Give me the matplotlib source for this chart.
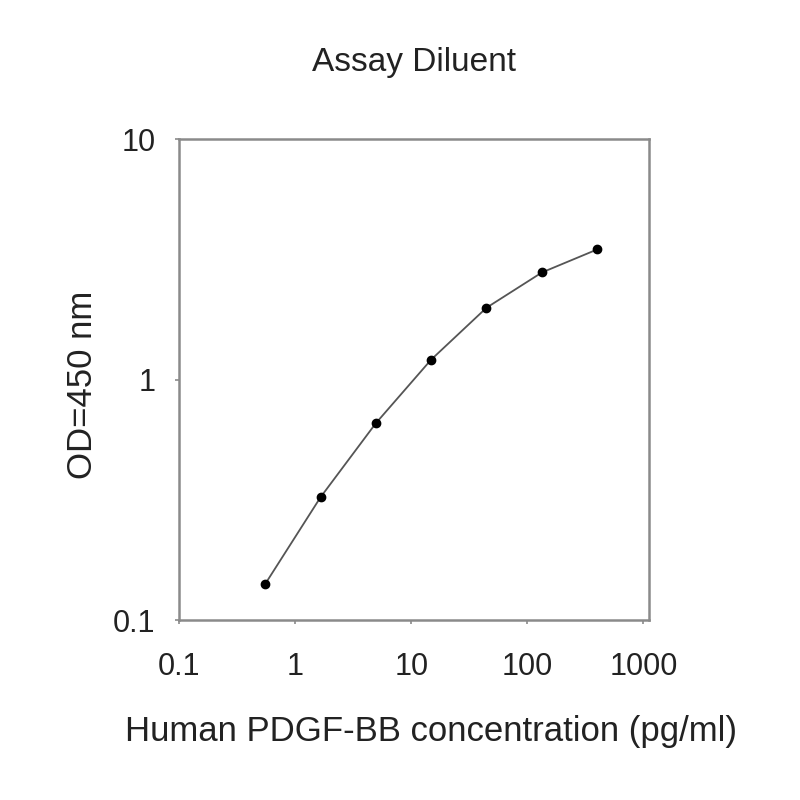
import matplotlib
matplotlib.use("Agg")
import matplotlib.pyplot as plt
from matplotlib.ticker import FixedLocator, NullLocator, FixedFormatter

plt.rcParams['font.family'] = ['Liberation Sans', 'DejaVu Sans']

# PDGF-BB standard curve (pg/ml vs OD450)
conc = [0.55, 1.65, 4.94, 14.8, 44.4, 133.3, 400]
od = [0.141, 0.324, 0.658, 1.21, 1.99, 2.79, 3.48]

x_ticks = [0.1, 1, 10, 100, 1000]
x_labels = ['0.1', '1', '10', '100', '1000']
y_ticks = [0.1, 1, 10]
y_labels = ['0.1', '1', '10']

fig = plt.figure(figsize=(8, 8), dpi=100)
ax = fig.add_axes([0.224, 0.225, 0.5875, 0.601])

ax.plot(conc, od, color='#555555', linewidth=1.3, zorder=2)
ax.plot(conc, od, 'o', color='black', markersize=6, zorder=3)

ax.set_xscale('log')
ax.set_yscale('log')
ax.set_xlim(0.1, 1120)
ax.set_ylim(0.1, 10)

ax.xaxis.set_major_locator(FixedLocator(x_ticks))
ax.xaxis.set_major_formatter(FixedFormatter(x_labels))
ax.xaxis.set_minor_locator(NullLocator())
ax.yaxis.set_major_locator(FixedLocator(y_ticks))
ax.yaxis.set_major_formatter(FixedFormatter(y_labels))
ax.yaxis.set_minor_locator(NullLocator())

for s in ax.spines.values():
    s.set_color('#8a8a8a')
    s.set_linewidth(1.8)
ax.tick_params(direction='out', length=3, width=1.2, color='#8a8a8a',
               labelsize=22, labelcolor='#222222')
ax.tick_params(axis='x', pad=20)
ax.tick_params(axis='y', pad=14)

fig.text(414 / 800, 1 - 62 / 800, 'Assay Diluent', fontsize=24,
         ha='center', va='center', color='#222222')
fig.text(431 / 800, 1 - 731 / 800, 'Human PDGF-BB concentration (pg/ml)',
         fontsize=25, ha='center', va='center', color='#222222')
fig.text(82 / 800, 1 - 385 / 800, 'OD=450 nm', fontsize=25, rotation=90,
         ha='center', va='center', color='#222222')

fig.savefig('out.png', dpi=100)
